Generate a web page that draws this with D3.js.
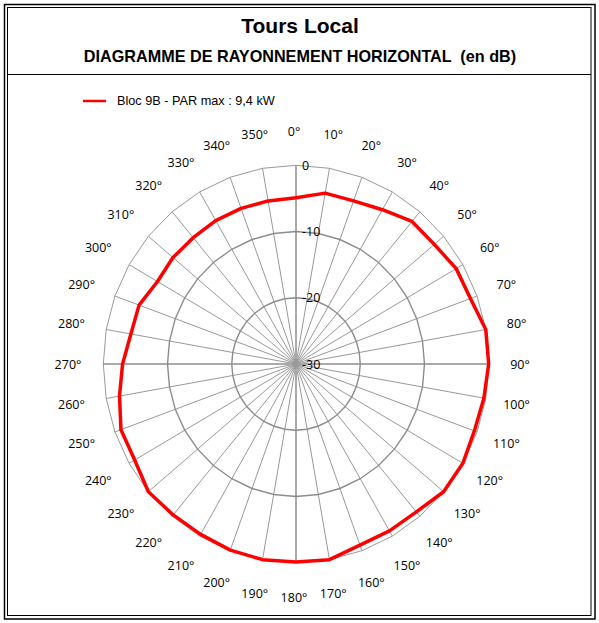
<!DOCTYPE html>
<html>
<head>
<meta charset="utf-8">
<script src="https://cdn.jsdelivr.net/npm/d3@7"></script>
<style>
  body { margin: 0; background: #fff; }
  svg { display: block; }
</style>
</head>
<body>
<div id="chart"></div>
<script>
// angles (degrees, clockwise from north) and level in dB
const angles = [0, 10, 20, 30, 40, 50, 60, 70, 80, 90, 100, 110,
                120, 130, 140, 150, 160, 170, 180, 190, 200, 210, 220, 230,
                240, 250, 260, 270, 280, 290, 300, 310, 320, 330, 340, 350];
const levels = [-4.9, -3.8, -3.8, -3.1, -1.9, -1.9, -1.2, -1.1, 0, 0, -0.3, -0.45,
                0, 0, -0.85, -0.9, -0.9, 0, -0.1, 0, -0.1, -0.3, -0.25, 0,
                -1.0, -1.0, -2.1, -3.0, -3.9, -4.0, -5.1, -5.0, -5.1, -5.0, -5.0, -5.0];
const ringTicks = [0, -10, -20, -30];
const seriesName = "Bloc 9B - PAR max : 9,4 kW";
const title = "Tours Local";
const subtitle = "DIAGRAMME DE RAYONNEMENT HORIZONTAL  (en dB)";

const W = 599, H = 623;
const cx = 296, cy = 364;
const rx = 192.7, ry = 198.7;

const svg = d3.select("#chart").append("svg")
  .attr("width", W)
  .attr("height", H);

// double frame
svg.append("rect")
  .attr("x", 4.5).attr("y", 4.5)
  .attr("width", 590.5).attr("height", 614.5)
  .attr("fill", "none").attr("stroke", "#000").attr("stroke-width", 1.5);
svg.append("rect")
  .attr("x", 7.5).attr("y", 7.5)
  .attr("width", 583.5).attr("height", 608)
  .attr("fill", "none").attr("stroke", "#000").attr("stroke-width", 1);
svg.append("line")
  .attr("x1", 7.5).attr("x2", 591)
  .attr("y1", 74.5).attr("y2", 74.5)
  .attr("stroke", "#000");

// titles
svg.append("text")
  .attr("x", 300).attr("y", 33)
  .attr("text-anchor", "middle")
  .style("font-family", "'Liberation Sans', Arial, sans-serif")
  .style("font-size", "21px")
  .style("font-weight", "bold")
  .text(title);
svg.append("text")
  .attr("x", 300).attr("y", 62)
  .attr("text-anchor", "middle")
  .style("white-space", "pre")
  .style("font-family", "'Liberation Sans', Arial, sans-serif")
  .style("font-size", "16.2px")
  .style("font-weight", "bold")
  .text(subtitle);

// legend
svg.append("line")
  .attr("x1", 83).attr("x2", 106)
  .attr("y1", 101).attr("y2", 101)
  .attr("stroke", "#ff0000").attr("stroke-width", 2.5);
svg.append("text")
  .attr("x", 117).attr("y", 105)
  .style("font-family", "'Liberation Sans', Arial, sans-serif")
  .style("font-size", "12.7px")
  .text(seriesName);

// scales
const ang = d3.scaleLinear().domain([0, 360]).range([0, 2 * Math.PI]);
const radX = d3.scaleLinear().domain([-30, 0]).range([0, rx]);
const radY = d3.scaleLinear().domain([-30, 0]).range([0, ry]);
const px = (a, v) => cx + radX(v) * Math.sin(ang(a));
const py = (a, v) => cy - radY(v) * Math.cos(ang(a));

const g = svg.append("g");

// spokes
g.selectAll("line.spoke")
  .data(angles)
  .enter().append("line")
  .attr("class", "spoke")
  .attr("x1", cx).attr("y1", cy)
  .attr("x2", d => px(d, 0))
  .attr("y2", d => py(d, 0))
  .attr("stroke", d => d % 90 === 0 ? "#aaa" : "#999")
  .attr("stroke-width", d => d % 90 === 0 ? 2 : 1);

// rings (polygons)
const ringLine = d3.line().x(d => d[0]).y(d => d[1]);
g.selectAll("path.ring")
  .data(ringTicks.filter(t => t > -30))
  .enter().append("path")
  .attr("class", "ring")
  .attr("d", t => ringLine(angles.map(a => [px(a, t), py(a, t)])) + "Z")
  .attr("fill", "none")
  .attr("stroke", t => t === 0 ? "#9a9a9a" : "#8c8c8c")
  .attr("stroke-width", t => t === 0 ? 1 : 1.4);

g.append("circle")
  .attr("cx", cx).attr("cy", cy).attr("r", 3.5)
  .attr("fill", "#999");

// ring tick labels
g.selectAll("text.tick")
  .data(ringTicks)
  .enter().append("text")
  .attr("class", "tick")
  .attr("x", cx + 6)
  .attr("y", t => py(0, t))
  .attr("dominant-baseline", "central")
  .style("font-family", "'Open Sans', sans-serif")
  .style("font-size", "12.5px")
  .text(t => t);

// angle labels
const Lx = 226, Ly = 233;
g.selectAll("text.ang")
  .data(angles)
  .enter().append("text")
  .attr("class", "ang")
  .attr("x", a => cx - 2 + Lx * Math.sin(ang(a)))
  .attr("y", a => cy - Ly * Math.cos(ang(a)))
  .attr("text-anchor", "middle")
  .attr("dominant-baseline", "central")
  .style("font-family", "'Open Sans', sans-serif")
  .style("font-size", "12.5px")
  .text(a => a + "°");

// series
const pts = angles.map((a, i) => [px(a, levels[i]), py(a, levels[i])]);
g.append("path")
  .attr("d", ringLine(pts) + "Z")
  .attr("fill", "none")
  .attr("stroke", "#ff0000")
  .attr("stroke-width", 3.5)
  .attr("stroke-linejoin", "round");
</script>
</body>
</html>
